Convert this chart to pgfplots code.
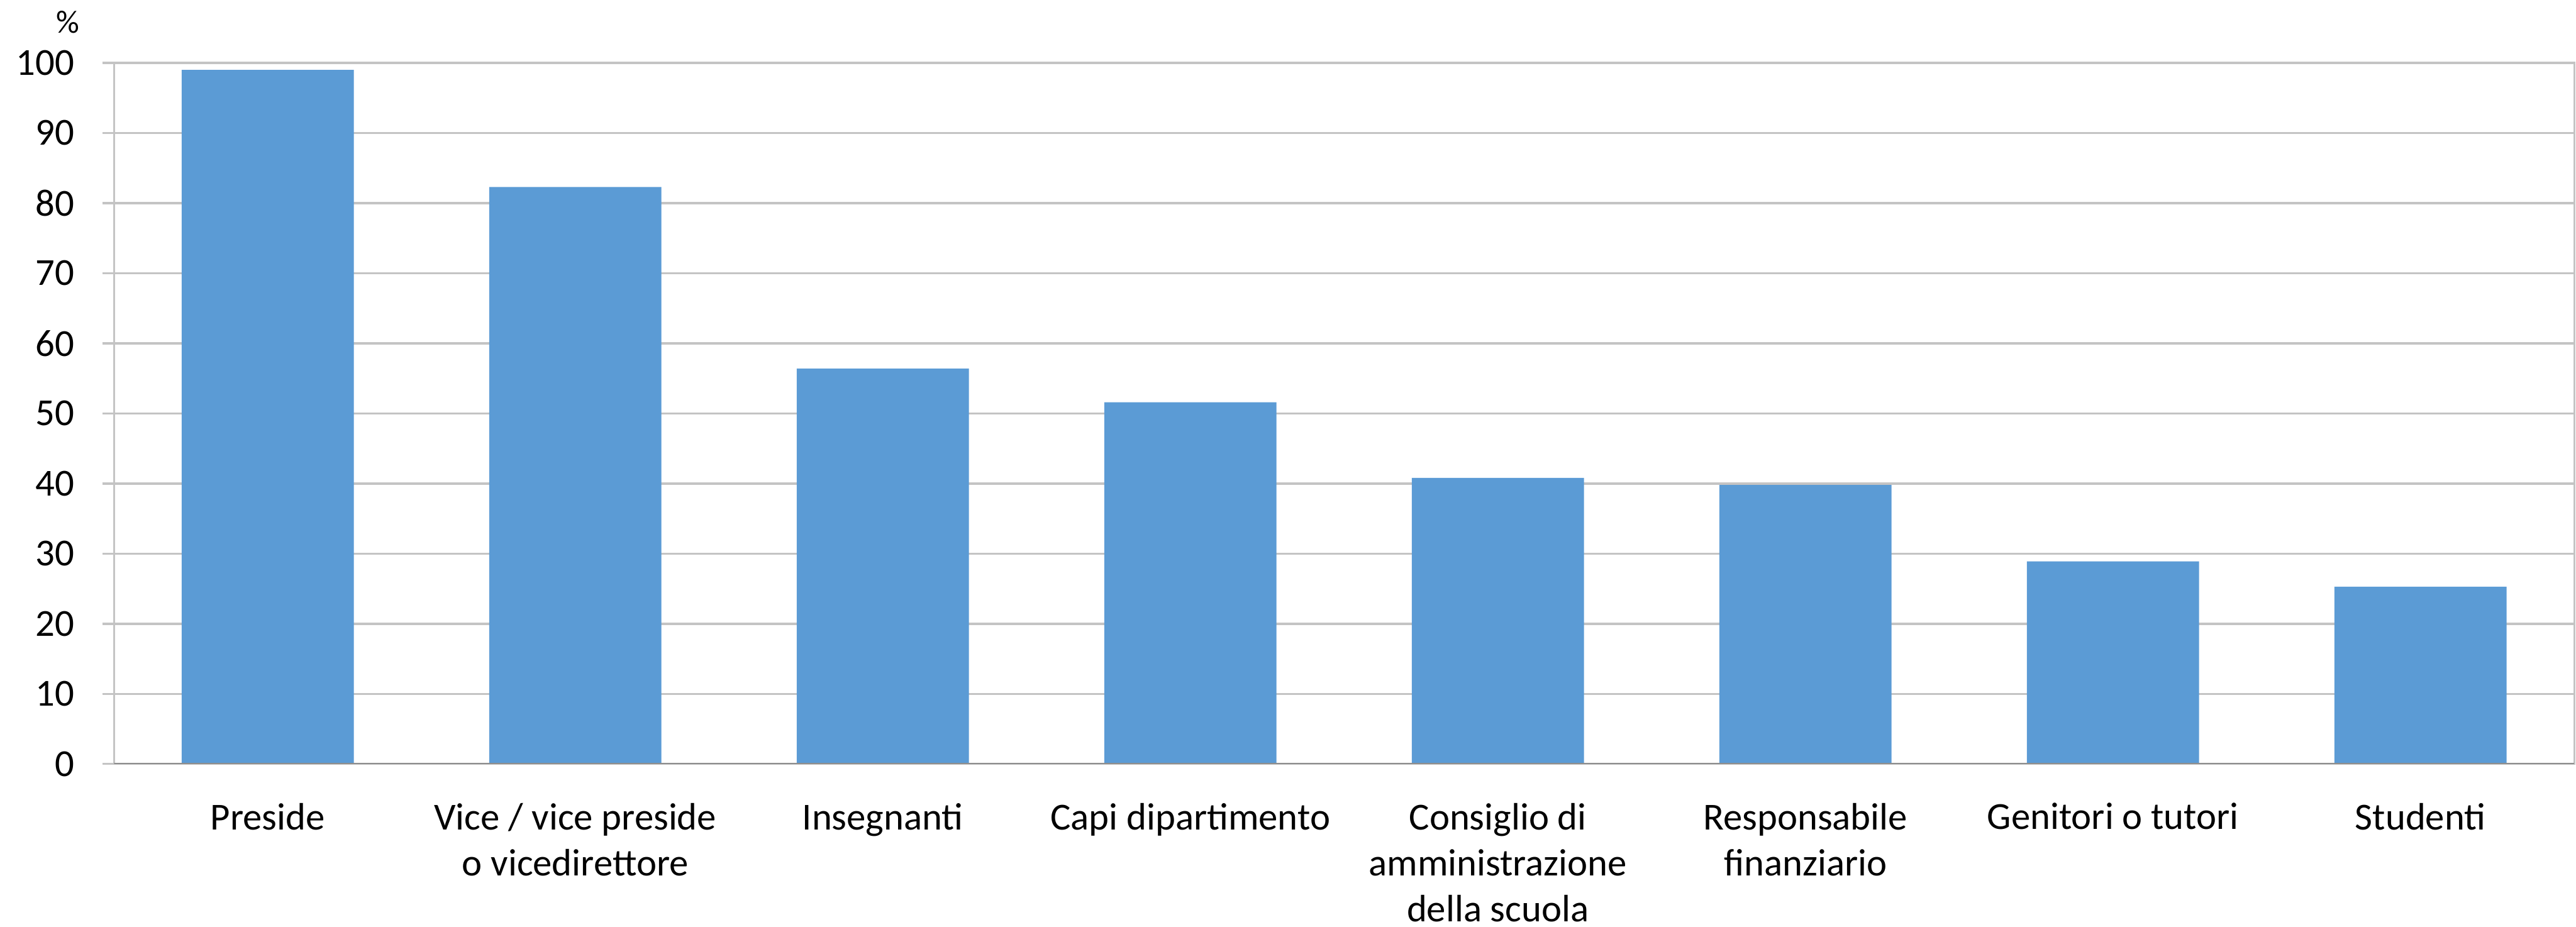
\documentclass[border=0pt]{standalone}
\usepackage{pgfplots}
\pgfplotsset{compat=1.18}
\usepackage{fontspec}
\setmainfont{Carlito}
\definecolor{barblue}{HTML}{5B9BD5}
\definecolor{gridgray}{HTML}{C4C4C4}
\definecolor{axisgray}{HTML}{8E8E8E}

\begin{document}
\begin{tikzpicture}
\useasboundingbox (-38.8pt,-55.4pt) rectangle (837.8pt,260pt);
\begin{axis}[
  name=ax,
  at={(0,0)}, anchor=south west,
  scale only axis, width=837.2pt, height=238.6pt,
  xmin=-0.5, xmax=7.5, ymin=0, ymax=100,
  ytick={0,10,...,100},
  xtick={0,...,7},
  xticklabels={Preside,
    {Vice / vice preside\\o vicedirettore},
    Insegnanti,
    Capi dipartimento,
    {Consiglio di\\amministrazione\\della scuola},
    {Responsabile\\finanziario},
    Genitori o tutori,
    Studenti},
  ymajorgrids,
  grid style={gridgray, line width=0.7pt},
  axis line style={gridgray, line width=0.7pt},
  ytick pos=left,
  xtick style={draw=none},
  ytick style={gridgray, line width=0.7pt},
  tick align=outside, major tick length=4pt,
  ticklabel style={font=\fontsize{13}{15.6}\selectfont},
  /pgf/number format/assume math mode=true,
  yticklabel style={xshift=-6pt},
  xticklabel style={align=center, anchor=north, yshift=-5.8pt},
]
\addplot[ybar, bar width=58.6pt, fill=barblue, draw=none]
  coordinates {(0,99) (1,82.3) (2,56.4) (3,51.6) (4,40.8) (5,39.8) (6,28.9) (7,25.3)};
\draw[axisgray, line width=0.8pt] (axis cs:-0.5,0) -- (axis cs:7.5,0);
\end{axis}
\node[anchor=base east, inner sep=0pt, font=\fontsize{11}{13}\selectfont]
  at ([xshift=-11.5pt,yshift=10.2pt]ax.north west) {\%};
\end{tikzpicture}
\end{document}
